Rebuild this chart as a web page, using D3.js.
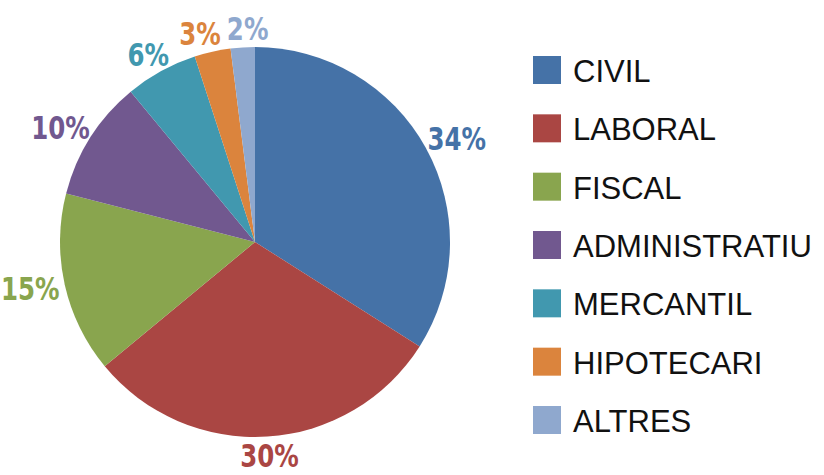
<!DOCTYPE html>
<html>
<head>
<meta charset="utf-8">
<script src="https://cdn.jsdelivr.net/npm/d3@7"></script>
<style>
  body { margin: 0; background: #fff; }
</style>
</head>
<body>
<div id="chart"></div>
<script>
const width = 824, height = 475;

// data
const categories = ["CIVIL", "LABORAL", "FISCAL", "ADMINISTRATIU", "MERCANTIL", "HIPOTECARI", "ALTRES"];
const values = [34, 30, 15, 10, 6, 3, 2];
const colors = ["#4572A7", "#AA4643", "#89A54E", "#71588F", "#4198AF", "#DB843D", "#8FA8CE"];

const cx = 255, cy = 242, radius = 195;
const squeeze = 0.85; // horizontal squeeze for the condensed label face

const svg = d3.select("#chart")
  .append("svg")
  .attr("width", width)
  .attr("height", height);

const color = d3.scaleOrdinal(categories, colors);

// pie, starting at 12 o'clock, clockwise, in data order
const pie = d3.pie().sort(null).value(d => d.value);
const arc = d3.arc().innerRadius(0).outerRadius(radius);
const anchorArc = d3.arc().innerRadius(radius + 6).outerRadius(radius + 6);

const data = categories.map((c, i) => ({ cat: c, value: values[i] }));
const arcsData = pie(data);

const g = svg.append("g")
  .attr("transform", "translate(" + cx + "," + cy + ")");

g.selectAll("path")
  .data(arcsData)
  .enter()
  .append("path")
  .attr("fill", d => color(d.data.cat))
  .attr("d", arc);

// percentage labels, "outside end": box sits just outside the rim
const total = d3.sum(values);
const labels = g.selectAll("text.lbl")
  .data(arcsData)
  .enter()
  .append("text")
  .attr("class", "lbl")
  .attr("text-anchor", "middle")
  .attr("dy", "0.36em")
  .style("font-family", "'DejaVu Sans Condensed', 'Liberation Sans Narrow', sans-serif")
  .style("font-weight", "bold")
  .style("font-size", "32px")
  .attr("fill", d => color(d.data.cat))
  .text(d => Math.round(d.data.value / total * 100) + "%");

const boxes = [];
labels.each(function(d) {
  const w = this.getComputedTextLength() * squeeze;
  const h = 26;
  const a = (d.startAngle + d.endAngle) / 2;
  const p = anchorArc.centroid(d);
  boxes.push({ x: p[0] + Math.sin(a) * w / 2, y: p[1] - Math.cos(a) * h / 2, w: w, h: h });
});

// nudge neighbouring labels apart if they touch
for (let k = 0; k < 20; k++) {
  for (let i = 0; i < boxes.length; i++) {
    for (let j = i + 1; j < boxes.length; j++) {
      const a = boxes[i], b = boxes[j];
      const ox = (a.w + b.w) / 2 + 6 - Math.abs(a.x - b.x);
      const oy = (a.h + b.h) / 2 - Math.abs(a.y - b.y);
      if (ox > 0 && oy > 0) {
        const s = a.x < b.x ? -1 : 1;
        a.x += s * ox / 2;
        b.x -= s * ox / 2;
      }
    }
  }
}

labels.attr("transform", (d, i) =>
  "translate(" + boxes[i].x + "," + boxes[i].y + ") scale(" + squeeze + ",1)");

// legend
const legendY = d3.scalePoint()
  .domain(categories)
  .range([70, 420]);

const legend = svg.append("g");

const rows = legend.selectAll("g")
  .data(categories)
  .enter()
  .append("g")
  .attr("transform", d => "translate(533," + legendY(d) + ")");

rows.append("rect")
  .attr("x", 0)
  .attr("y", -14)
  .attr("width", 28)
  .attr("height", 28)
  .attr("fill", d => color(d));

rows.append("text")
  .attr("x", 40)
  .attr("y", 12)
  .style("font-family", "'Liberation Sans', Arial, sans-serif")
  .style("font-size", "31px")
  .attr("fill", "#111")
  .text(d => d);
</script>
</body>
</html>
